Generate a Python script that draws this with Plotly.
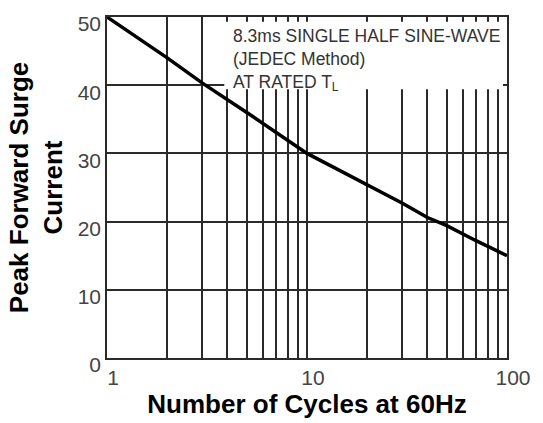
import plotly.graph_objects as go

cycles = [1, 2, 3, 5, 10, 20, 30, 40, 50, 70, 100]
current = [50, 44.0, 40.3, 36.0, 30.0, 25.4, 22.7, 20.6, 19.4, 17.2, 15.0]

x_major = [1, 10, 100]
x_minor = [2, 3, 4, 5, 6, 7, 8, 9, 20, 30, 40, 50, 60, 70, 80, 90]
y_ticks = [0, 10, 20, 30, 40, 50]

grid_col = "#2a2a2a"
font_family = "Liberation Sans, Arial, sans-serif"

fig = go.Figure()
fig.add_trace(go.Scatter(x=cycles, y=current, mode="lines",
                         line=dict(color="black", width=3.5), showlegend=False))

fig.update_layout(
    width=543, height=423,
    margin=dict(l=107, r=29, t=14, b=65),
    paper_bgcolor="white", plot_bgcolor="white",
    font=dict(family=font_family),
    xaxis=dict(
        type="log", range=[0, 2], tickmode="array", tickvals=x_major,
        ticktext=[str(v) for v in x_major],
        showgrid=True, gridcolor=grid_col, gridwidth=1.5,
        minor=dict(tickmode="array", tickvals=x_minor, showgrid=True,
                   gridcolor=grid_col, gridwidth=1.5, ticks=""),
        showline=True, linecolor=grid_col, linewidth=1.5, mirror=True,
        ticks="", tickfont=dict(size=21, color="#444"), ticklabelshift=6,
        title=dict(text="<b>Number of Cycles at 60Hz</b>",
                   font=dict(size=26, color="black"), standoff=0),
    ),
    yaxis=dict(
        range=[0, 50], tickmode="array", tickvals=y_ticks,
        showgrid=True, gridcolor=grid_col, gridwidth=1.5,
        showline=True, linecolor=grid_col, linewidth=1.5, mirror=True,
        zeroline=False, ticklabelshift=7,
        ticks="", tickfont=dict(size=21, color="#444"),
        title=dict(text="<b>Peak Forward Surge<br>Current</b>",
                   font=dict(size=26, color="black"), standoff=8),
    ),
)

fig.add_shape(type="rect", xref="x", yref="y", x0=3.86, x1=95.5, y0=39.4, y1=49.3,
              fillcolor="white", line=dict(width=0), layer="above")

fig.add_annotation(
    xref="x", yref="y", x=0.62, y=49.0, xanchor="left", yanchor="top",
    align="left", showarrow=False,
    text="8.3ms SINGLE HALF SINE-WAVE<br>(JEDEC Method)<br>AT RATED T<sub>L</sub>",
    font=dict(size=17.5, color="#333"),
)

fig.write_html("out.html", config={"displayModeBar": False},
               post_script="document.body.style.margin='0';")
